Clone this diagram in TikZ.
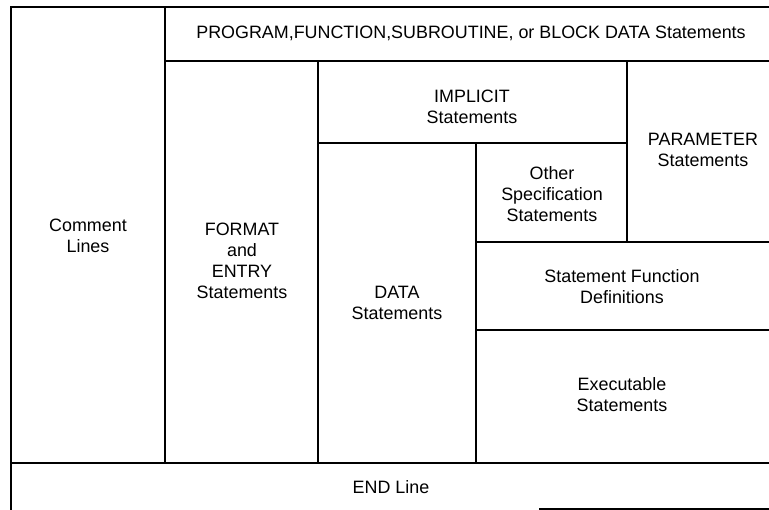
\documentclass[tikz,border=0pt]{standalone}
\usepackage{fontspec}
\setmainfont{Liberation Sans}
\begin{document}
\begin{tikzpicture}[x=1pt,y=-1pt,
  rule/.style={line width=2.4pt, line cap=rect},
  lbl/.style={align=center, font=\fontsize{17.9}{21}\selectfont, inner sep=0pt}]
\useasboundingbox (0,0) rectangle (769,510);
% outer frame (left and top; right cropped)
\draw[rule] (769,7) -- (11,7) -- (11,510);
\draw[rule] (540,509) -- (769,509);
% top band
\draw[rule] (165,7) -- (165,463);
\draw[rule] (165,61) -- (769,61);
% END line
\draw[rule] (11,463) -- (769,463);
% FORMAT column
\draw[rule] (318,61) -- (318,463);
% IMPLICIT bottom
\draw[rule] (318,143) -- (627,143);
% PARAMETER left
\draw[rule] (627,61) -- (627,242);
% DATA right
\draw[rule] (476,143) -- (476,463);
% Other spec bottom
\draw[rule] (476,242) -- (769,242);
% Statement function bottom
\draw[rule] (476,330) -- (769,330);
% labels
\node[lbl] (prog) at (471,33) {PROGRAM,FUNCTION,SUBROUTINE, or BLOCK DATA Statements};
\node[lbl] (comm) at (88,236) {Comment\\Lines};
\node[lbl] (fmt) at (242,261) {FORMAT\\and\\ENTRY\\Statements};
\node[lbl] (impl) at (472,107) {IMPLICIT\\Statements};
\node[lbl] (param) at (703,150) {PARAMETER\\Statements};
\node[lbl] (other) at (552,194) {Other\\Specification\\Statements};
\node[lbl] (data) at (397,303) {DATA\\Statements};
\node[lbl] (sfd) at (622,287) {Statement Function\\Definitions};
\node[lbl] (exec) at (622,395) {Executable\\Statements};
\node[lbl] (end) at (391,487) {END Line};
\end{tikzpicture}
\end{document}
